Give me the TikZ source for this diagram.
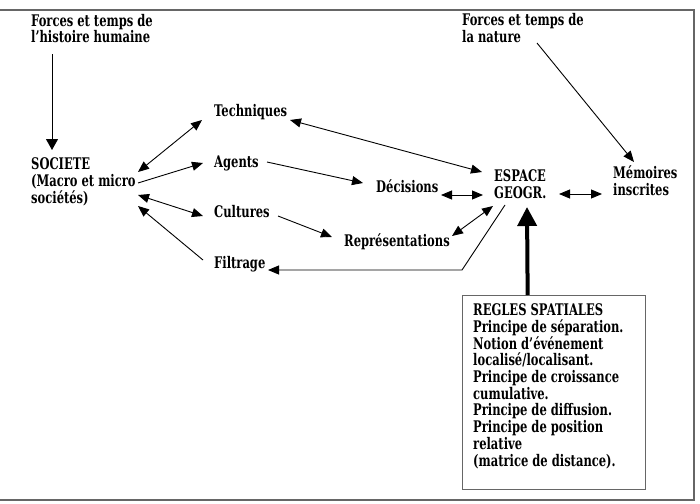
\documentclass[tikz,border=0pt]{standalone}
\usepackage{fontspec}
\setmainfont{DejaVu Serif}[FakeStretch=0.72]
\usetikzlibrary{arrows.meta}
\begin{document}
\begin{tikzpicture}[x=1pt,y=-1pt,
  lbl/.style={inner sep=0pt, anchor=base west, align=left,
    font=\bfseries\fontsize{16}{16.7}\selectfont},
  conn/.style={line width=0.9pt, -{Triangle[length=11pt,width=9pt]}},
  bconn/.style={line width=0.9pt, {Triangle[length=11pt,width=9pt]}-{Triangle[length=11pt,width=9pt]}},
  frame/.style={draw=black!60, line width=1.3pt}]
\useasboundingbox (0,0) rectangle (700,503);
\draw[frame] (0,10) -- (694,10) -- (694,500) -- (0,500);
\node[lbl] (fh) at (31,43) {Forces et temps de\\l’histoire humaine};
\node[lbl] (soc) at (31,203) {SOCIETE\\(Macro et micro\\sociétés)};
\node[lbl] (tech) at (214,116) {Techniques};
\node[lbl] (agents) at (214,167) {Agents};
\node[lbl] (cult) at (214,217) {Cultures};
\node[lbl] (filt) at (214,268) {Filtrage};
\node[lbl] (dec) at (376,192) {Décisions};
\node[lbl] (rep) at (344,246) {Représentations};
\node[lbl] (esp) at (494,198) {ESPACE\\GEOGR.};
\node[lbl] (mem) at (613,195) {Mémoires\\inscrites};
\node[lbl] (fn) at (462,42) {Forces et temps de\\la nature};
\node[frame, draw, inner sep=0pt, minimum width=183pt, minimum height=194pt, anchor=north west] (box) at (462,295) {};
\node[lbl] (regtxt) at (473,466) {REGLES SPATIALES\\Principe de séparation.\\Notion d’événement\\localisé/localisant.\\Principe de croissance\\cumulative.\\Principe de diffusion.\\Principe de position\\relative\\(matrice de distance).};
% connectors
\draw[conn, {Triangle[length=11pt,width=12pt]}-] ([shift={(21,-53)}]soc.base west) -- ([shift={(21,11)}]fh.base west);
\draw[bconn] ([shift={(107,-31)}]soc.base west) -- ([shift={(-12,4)}]tech.base west);
\draw[conn] ([shift={(107,-20)}]soc.base west) -- ([shift={(-11,-4)}]agents.base west);
\draw[bconn] ([shift={(107,-8)}]soc.base west) -- ([shift={(-11,-1)}]cult.base west);
\draw[conn] ([shift={(-11,-8)}]filt.base west) -- ([shift={(107,3)}]soc.base west);
\draw[bconn] ([shift={(76,4)}]tech.base west) -- ([shift={(-12,-26)}]esp.base west);
\draw[conn] ([shift={(53,-5)}]agents.base west) -- ([shift={(-13,-9)}]dec.base west);
\draw[bconn] ([shift={(65,3)}]dec.base west) -- ([shift={(-11,-3)}]esp.base west);
\draw[conn] ([shift={(64,-1)}]cult.base west) -- ([shift={(-12,-9)}]rep.base west);
\draw[bconn] ([shift={(108,-10)}]rep.base west) -- ([shift={(-1,8)}]esp.base west);
\draw[conn] ([shift={(11,7)}]esp.base west) -- ([shift={(248,2)}]filt.base west) -- ([shift={(54,2)}]filt.base west);
\draw[bconn] ([shift={(65,-4)}]esp.base west) -- ([shift={(-11,-1)}]mem.base west);
\draw[conn] ([shift={(75,1)}]fn.base west) -- ([shift={(21,-33)}]mem.base west);
\draw[line width=4pt, -{Triangle[length=19pt,width=19pt]}] ([shift={(-26.5,0)}]box.north) -- ([shift={(33,9)}]esp.base west);
\end{tikzpicture}
\end{document}
